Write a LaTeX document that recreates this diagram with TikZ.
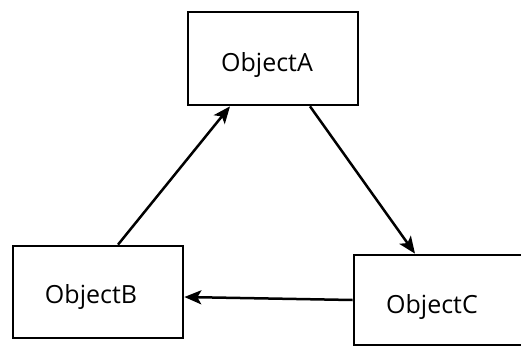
\documentclass[tikz,border=0pt]{standalone}
\usepackage{fontspec}
\setmainfont{Open Sans}
\usetikzlibrary{arrows.meta}
\begin{document}
\begin{tikzpicture}[x=1pt,y=1pt,
  objbox/.style={draw=black, line width=2.7pt, minimum width=170pt, inner sep=0pt},
  objtext/.style={font=\fontsize{25}{29}\selectfont, inner sep=0pt},
  link/.style={line width=2.5pt, -{Stealth[length=17pt,width=14pt,inset=4pt]}}]
  \useasboundingbox (0,0) rectangle (521,346);
  % the three object boxes
  \node[objbox, minimum height=93pt] (A) at (273,287.5) {};
  \node[objbox, minimum height=92pt] (B) at (98,54) {};
  \node[objbox, minimum height=90pt] (C) at (439,46) {};
  % their names, set a little left of and below centre
  \node[objtext] (tA) at ([shift={(-6,-7)}]A.center) {ObjectA};
  \node[objtext] (tB) at ([shift={(-7,-5)}]B.center) {ObjectB};
  \node[objtext] (tC) at ([shift={(-7,-7)}]C.center) {ObjectC};
  % messages between the objects
  \draw[link] ([xshift=20pt]B.north) -- ([xshift=-43pt]A.south);
  \draw[link] ([xshift=37pt]A.south) -- ([xshift=-24pt]C.north);
  \draw[link] (C.west) -- ([yshift=-5pt]B.east);
\end{tikzpicture}
\end{document}
